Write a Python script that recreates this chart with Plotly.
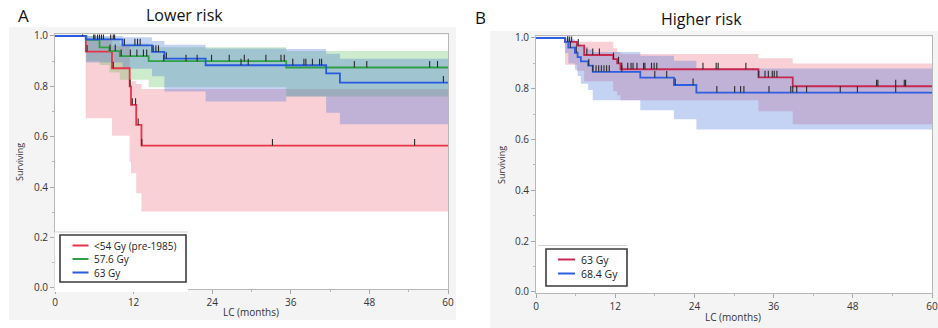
import numpy as np
import plotly.graph_objects as go

W, H = 938, 328

# ---------------- Panel A : Lower risk ----------------
a_red_t  = [0, 4.7, 8.7, 11.4, 11.6, 12.4, 13.2, 60]
a_red_s  = [1.0, 0.938, 0.872, 0.800, 0.727, 0.647, 0.565, 0.565]
a_red_lo = [1.0, 0.674, 0.604, 0.500, 0.455, 0.376, 0.304, 0.304]
a_red_hi = [1.0, 0.990, 0.960, 0.830, 0.820, 0.810, 0.790, 0.790]
a_red_cens = [4.9, 8.9, 11.45, 11.8, 12.3, 12.7, 13.25, 33.2, 54.9]

a_green_t  = [0, 4.8, 6.8, 8.3, 9.9, 14.3, 35.3, 60]
a_green_s  = [1.0, 0.985, 0.955, 0.940, 0.920, 0.900, 0.875, 0.875]
a_green_lo = [1.0, 0.900, 0.885, 0.855, 0.826, 0.797, 0.760, 0.760]
a_green_hi = [1.0, 1.000, 0.995, 0.985, 0.970, 0.955, 0.940, 0.940]
a_green_cens = [6.5, 8.4, 9.2, 10.1, 11.5, 12.5, 13.5, 14.0, 16.6, 20.0, 21.7,
                23.9, 26.6, 28.9, 32.2, 34.5, 35.0, 45.7, 47.6, 57.2, 58.4]

a_blue_t  = [0, 4.7, 10.3, 14.8, 16.7, 23.0, 35.3, 41.4, 43.5, 60]
a_blue_s  = [1.0, 0.987, 0.963, 0.937, 0.910, 0.884, 0.884, 0.852, 0.815, 0.815]
a_blue_lo = [1.0, 0.895, 0.870, 0.840, 0.780, 0.740, 0.760, 0.695, 0.650, 0.650]
a_blue_hi = [1.0, 1.000, 0.995, 0.980, 0.965, 0.950, 0.948, 0.930, 0.910, 0.910]
a_blue_cens = [4.2, 5.9, 6.1, 6.8, 7.1, 7.4, 8.5, 8.9, 9.1, 10.6, 12.2, 12.6, 13.0,
               15.0, 15.4, 15.8, 17.0, 28.4, 29.5, 36.3, 38.0, 38.3, 39.3, 40.4,
               40.7, 59.3]

a_names = ["<54 Gy (pre-1985)", "57.6 Gy", "63 Gy"]

# ---------------- Panel B : Higher risk ----------------
b_red_t  = [0, 4.4, 6.2, 7.3, 11.7, 12.3, 12.8, 33.7, 38.9, 60]
b_red_s  = [1.0, 0.985, 0.970, 0.933, 0.917, 0.900, 0.877, 0.845, 0.810, 0.810]
b_red_lo = [1.0, 0.895, 0.870, 0.830, 0.790, 0.775, 0.755, 0.712, 0.660, 0.660]
b_red_hi = [1.0, 0.990, 0.985, 0.985, 0.960, 0.945, 0.937, 0.920, 0.900, 0.900]
b_red_cens = [4.8, 5.1, 5.4, 6.4, 7.7, 8.6, 9.6, 11.75, 12.5, 13.0, 13.9, 14.4,
              14.7, 15.3, 16.3, 16.5, 17.5, 17.9, 18.3, 25.3, 27.3, 27.6, 31.8,
              33.75, 34.7, 35.2, 35.8, 36.1, 36.5, 51.6, 51.8, 54.5, 55.8, 56.0]

b_blue_t  = [0, 4.4, 4.9, 5.9, 6.3, 6.8, 7.9, 8.6, 15.8, 20.9, 24.3, 60]
b_blue_s  = [1.0, 0.985, 0.962, 0.942, 0.925, 0.908, 0.891, 0.867, 0.844, 0.815, 0.785, 0.785]
b_blue_lo = [1.0, 0.940, 0.900, 0.875, 0.850, 0.820, 0.795, 0.755, 0.716, 0.680, 0.640, 0.640]
b_blue_hi = [1.0, 1.000, 0.995, 0.985, 0.975, 0.965, 0.955, 0.945, 0.930, 0.910, 0.880, 0.880]
b_blue_cens = [4.8, 5.2, 6.1, 8.0, 8.6, 9.1, 9.5, 9.9, 10.3, 10.7, 11.1, 13.0, 18.0,
               19.8, 21.1, 23.8, 27.4, 30.1, 31.0, 31.5, 35.3, 38.6, 38.9, 39.5,
               41.0, 46.1, 48.7, 54.5]

b_names = ["63 Gy", "68.4 Gy"]

x_ticks = [0, 12, 24, 36, 48, 60]
y_ticks = [0.0, 0.2, 0.4, 0.6, 0.8, 1.0]

FONT = "Open Sans"

def px(x):
    return x / W

def py(y):
    return 1 - y / H

YLO, YHI = -0.004, 1.006

def ydom(p0, p1):
    per = p0 - p1
    bottom = p0 - YLO * per
    top = p1 - (YHI - 1) * per
    return [py(bottom), py(top)]

fig = go.Figure()

def step_at(t, s, c):
    t = np.asarray(t); s = np.asarray(s)
    idx = np.searchsorted(t, np.asarray(c), side="right") - 1
    return s[idx]

def add_band(t, lo, hi, color, xa, ya):
    fig.add_trace(go.Scatter(x=t, y=lo, mode="lines", line=dict(width=0, shape="hv"),
                             showlegend=False, hoverinfo="skip", xaxis=xa, yaxis=ya))
    fig.add_trace(go.Scatter(x=t, y=hi, mode="lines", line=dict(width=0, shape="hv"),
                             fill="tonexty", fillcolor=color, showlegend=False,
                             hoverinfo="skip", xaxis=xa, yaxis=ya))

def add_curve(t, s, color, name, xa, ya):
    fig.add_trace(go.Scatter(x=t, y=s, mode="lines", name=name,
                             line=dict(width=1.8, shape="hv", color=color),
                             xaxis=xa, yaxis=ya, showlegend=False))

def add_cens(t, s, cens, xa, ya):
    yv = step_at(t, s, cens)
    xs, ys = [], []
    for c, v in zip(cens, yv):
        xs += [c, c, None]
        ys += [v, v + 0.026, None]
    fig.add_trace(go.Scatter(x=xs, y=ys, mode="lines", line=dict(width=1.1, color="#2a2a2a"),
                             showlegend=False, hoverinfo="skip", xaxis=xa, yaxis=ya))

PINK = "rgba(236,110,125,0.32)"
GREEN = "rgba(90,190,90,0.30)"
BLUE = "rgba(60,105,220,0.30)"

A_COLORS = ["rgb(232,52,72)", "rgb(46,160,70)", "rgb(40,90,225)"]
B_COLORS = ["rgb(200,40,80)", "rgb(45,95,225)"]

# Panel A
add_band(a_red_t, a_red_lo, a_red_hi, PINK, "x", "y")
add_band(a_green_t, a_green_lo, a_green_hi, GREEN, "x", "y")
add_band(a_blue_t, a_blue_lo, a_blue_hi, BLUE, "x", "y")
add_curve(a_red_t, a_red_s, A_COLORS[0], a_names[0], "x", "y")
add_curve(a_green_t, a_green_s, A_COLORS[1], a_names[1], "x", "y")
add_curve(a_blue_t, a_blue_s, A_COLORS[2], a_names[2], "x", "y")
add_cens(a_red_t, a_red_s, a_red_cens, "x", "y")
add_cens(a_green_t, a_green_s, a_green_cens, "x", "y")
add_cens(a_blue_t, a_blue_s, a_blue_cens, "x", "y")

# Panel B
add_band(b_red_t, b_red_lo, b_red_hi, PINK, "x2", "y2")
add_band(b_blue_t, b_blue_lo, b_blue_hi, BLUE, "x2", "y2")
add_curve(b_red_t, b_red_s, B_COLORS[0], b_names[0], "x2", "y2")
add_curve(b_blue_t, b_blue_s, B_COLORS[1], b_names[1], "x2", "y2")
add_cens(b_red_t, b_red_s, b_red_cens, "x2", "y2")
add_cens(b_blue_t, b_blue_s, b_blue_cens, "x2", "y2")

tickfont = dict(family=FONT, size=10, color="#333")
xcommon = dict(range=[0, 60], tickvals=x_ticks, showgrid=False, zeroline=False,
               showline=True, mirror=True, linecolor="#b8b8b8", linewidth=1,
               ticks="outside", ticklen=4, tickcolor="#a8a8a8", tickfont=tickfont,
               automargin=False,
               minor=dict(dtick=6, ticks="outside", ticklen=2, tickcolor="#b8b8b8"))
ycommon = dict(range=[YLO, YHI], tickvals=y_ticks, tickformat=".1f", showgrid=False,
               zeroline=False, showline=True, mirror=True, linecolor="#b8b8b8",
               linewidth=1, ticks="outside", ticklen=4, tickcolor="#a8a8a8",
               tickfont=tickfont, automargin=False,
               minor=dict(dtick=0.1, ticks="outside", ticklen=2, tickcolor="#b8b8b8"))

def prect(x0, x1, y0, y1, fill, layer, line=None):
    return dict(type="rect", xref="paper", yref="paper", x0=px(x0), x1=px(x1),
                y0=py(y1), y1=py(y0), fillcolor=fill,
                line=line if line else dict(width=0), layer=layer)

def pline(x0, x1, y0, y1, color, width):
    return dict(type="line", xref="paper", yref="paper", x0=px(x0), x1=px(x1),
                y0=py(y0), y1=py(y1), line=dict(color=color, width=width), layer="above")

shapes = [
    prect(9, 456, 27, 320, "#f4f4f4", "below"),
    prect(490, 938, 31, 328, "#f4f4f4", "below"),
    prect(55, 448, 35, 289, "white", "below"),
    prect(536, 932, 37, 293, "white", "below"),
    # white backdrop behind legend A
    prect(54.5, 188, 232, 292, "white", "above"),
    pline(55, 188, 232, 232, "#d4d4d4", 1),
    pline(538, 627, 245.5, 245.5, "#d4d4d4", 1),
    # legend boxes
    prect(60, 186, 235, 282, "white", "above", dict(color="#3c3c3c", width=1.6)),
    prect(546, 627, 249, 286, "white", "above", dict(color="#3c3c3c", width=1.6)),
]

def ann(text, x, y, size, color="#111", angle=0, xanchor="center"):
    return dict(text=text, x=px(x), y=py(y), xref="paper", yref="paper", showarrow=False,
                xanchor=xanchor, yanchor="middle", textangle=angle,
                font=dict(family=FONT, size=size, color=color))

annotations = [
    ann("A", 23, 15, 17),
    ann("Lower risk", 184, 15, 16),
    ann("B", 480, 17.5, 17),
    ann("Higher risk", 701, 19, 16),
    ann("Surviving", 19, 162, 9, "#333", -90),
    ann("Surviving", 501, 165, 9, "#333", -90),
    ann("LC (months)", 251, 312, 10, "#333"),
    ann("LC (months)", 733, 316.5, 10, "#333"),
]

# manual legends
for i, (name, col) in enumerate(zip(a_names, A_COLORS)):
    yy = 245.5 + i * 13.5
    shapes.append(pline(72.5, 88.5, yy, yy, col, 2))
    annotations.append(ann(name, 92, yy, 10, "#222", 0, "left"))
for i, (name, col) in enumerate(zip(b_names, B_COLORS)):
    yy = 259.5 + i * 14
    shapes.append(pline(558, 575, yy, yy, col, 2))
    annotations.append(ann(name, 579, yy, 10.5, "#222", 0, "left"))

fig.update_layout(
    width=W, height=H, margin=dict(l=0, r=0, t=0, b=0, autoexpand=False),
    paper_bgcolor="white", plot_bgcolor="white",
    xaxis=dict(domain=[px(55), px(448)], anchor="y", **xcommon),
    yaxis=dict(domain=ydom(288, 36), anchor="x", **ycommon),
    xaxis2=dict(domain=[px(536), px(932)], anchor="y2", **xcommon),
    yaxis2=dict(domain=ydom(292, 38), anchor="x2", **ycommon),
    shapes=shapes, annotations=annotations, showlegend=False,
)

fig.write_html("out.html")
